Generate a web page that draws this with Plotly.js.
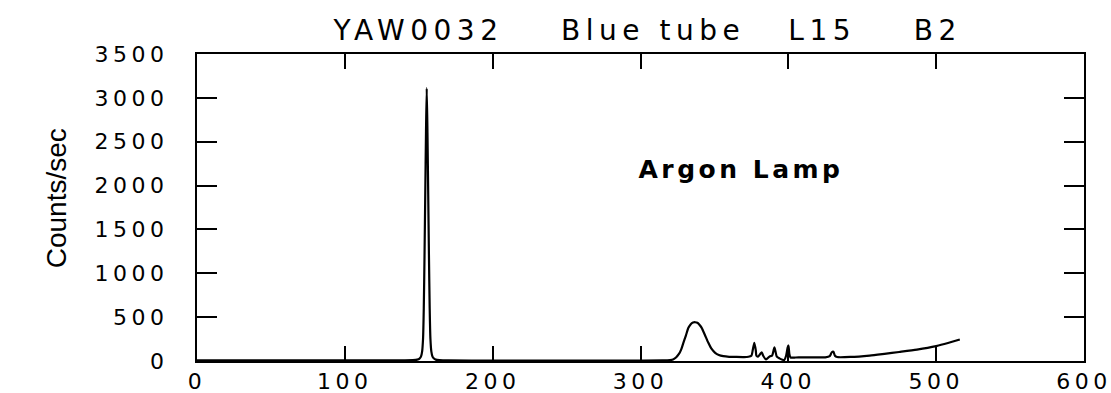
<!DOCTYPE html>
<html>
<head>
<meta charset="utf-8">
<script src="https://cdn.plot.ly/plotly-3.0.1.min.js"></script>
<style>
  html, body { margin: 0; padding: 0; background: #fff; }
  #chart { width: 1111px; height: 393px; }
  /* wide plotter-style lettering */
  #chart .xtick text, #chart .ytick text { letter-spacing: 4.5px; }
  #chart .gtitle { letter-spacing: 5.5px; }
  #chart .annotation[data-index="1"] .annotation-text { letter-spacing: 3.5px; }
</style>
</head>
<body>
<div id="chart"></div>
<script>
// Argon lamp spectrum, blue tube
const wavelength = [
  0, 20, 40, 60, 80, 100, 120, 140, 146, 149, 150.5, 151.5, 152.3, 152.9, 153.4,
  153.9, 154.4, 154.9, 155.4, 155.9, 156.4, 156.9, 157.4, 157.9, 158.5, 159.3,
  160.3, 161.5, 164, 170, 200, 230, 260, 290, 315, 320, 322, 324, 326, 327.5,
  329, 330.7, 332.4, 334, 335.5, 337, 338.5, 340, 341.4, 343.5, 345.9, 348,
  350.5, 353, 356, 360, 365, 370, 373, 375, 376, 377, 378, 378.4, 379.5, 381,
  382, 383, 385, 386.5, 387.6, 389, 390, 390.6, 391.3, 392.2, 394, 396, 397.2,
  398.5, 399.5, 400.1, 400.7, 401.5, 405, 410, 415, 420, 425, 428, 429.4, 430.5,
  431.5, 433, 442, 455, 465, 475, 487, 500, 508, 516
];
const counts = [
  6, 7, 6, 7, 6, 7, 7, 8, 10, 16, 28, 50, 110, 250, 600,
  1200, 1900, 2600, 3110, 2600, 1900, 1200, 600, 250, 110, 50,
  28, 16, 10, 6, 5, 5, 4, 5, 6, 10, 17, 40, 80, 130,
  207, 290, 378, 420, 438, 442, 436, 410, 378, 300, 207, 140,
  93, 68, 55, 48, 46, 45, 48, 60, 130, 207, 120, 60, 50, 80,
  100, 60, 17, 40, 55, 60, 120, 157, 110, 50, 30, 15, 10,
  60, 150, 177, 80, 40, 40, 42, 41, 42, 42, 55, 100, 105,
  60, 45, 46, 62, 82, 103, 130, 170, 205, 245
];

const xTicks = [0, 100, 200, 300, 400, 500, 600];
const yTicks = [0, 500, 1000, 1500, 2000, 2500, 3000, 3500];

const chartTitle = 'YAW0032\u00a0\u00a0\u00a0\u00a0Blue tube\u00a0\u00a0\u00a0L15\u00a0\u00a0\u00a0\u00a0B2';
const yTitle = 'Counts/sec';
const noteText = 'Argon Lamp';

const plotterFamily = '"DejaVu Sans", sans-serif';
const plotterFont = { family: plotterFamily, size: 22, color: '#000' };

const trace = {
  x: wavelength,
  y: counts,
  type: 'scatter',
  mode: 'lines',
  line: { color: '#000', width: 2.2, shape: 'spline', smoothing: 0.6 },
  hoverinfo: 'skip'
};

const layout = {
  width: 1111,
  height: 393,
  margin: { l: 197, r: 27, t: 54, b: 32 },
  paper_bgcolor: '#fff',
  plot_bgcolor: '#fff',
  showlegend: false,
  title: {
    text: chartTitle,
    x: 0.508, xref: 'paper', xanchor: 'center',
    y: 1 - 30 / 393, yref: 'container', yanchor: 'middle',
    font: { family: plotterFamily, size: 28, color: '#000' }
  },
  xaxis: {
    range: [0, 600],
    tickvals: xTicks,
    ticktext: xTicks.map(String),
    ticks: 'inside', ticklen: 15, tickwidth: 2, tickcolor: '#000',
    showline: true, linecolor: '#000', linewidth: 2, mirror: 'allticks',
    showgrid: false, zeroline: false,
    tickfont: plotterFont,
    ticklabelstandoff: 0
  },
  yaxis: {
    range: [0, 3500],
    tickvals: yTicks,
    ticktext: yTicks.map(String),
    ticks: 'inside', ticklen: 20, tickwidth: 2, tickcolor: '#000',
    showline: true, linecolor: '#000', linewidth: 2, mirror: 'allticks',
    showgrid: false, zeroline: false,
    tickfont: plotterFont,
    ticklabelstandoff: 22
  },
  annotations: [
    {
      // vertical axis label, set slightly above the plot's midline
      xref: 'paper', yref: 'paper',
      x: -0.159, y: 0.53,
      xanchor: 'center', yanchor: 'middle',
      text: yTitle, textangle: -90,
      showarrow: false,
      font: { family: '"Liberation Sans", Arial, sans-serif', size: 28, color: '#000' }
    },
    {
      x: 368, y: 2180, xref: 'x', yref: 'y',
      text: noteText,
      showarrow: false,
      font: { family: plotterFamily, size: 25, color: '#000', weight: 'bold' }
    }
  ]
};

Plotly.newPlot('chart', [trace], layout, { staticPlot: true, displayModeBar: false });
</script>
</body>
</html>
